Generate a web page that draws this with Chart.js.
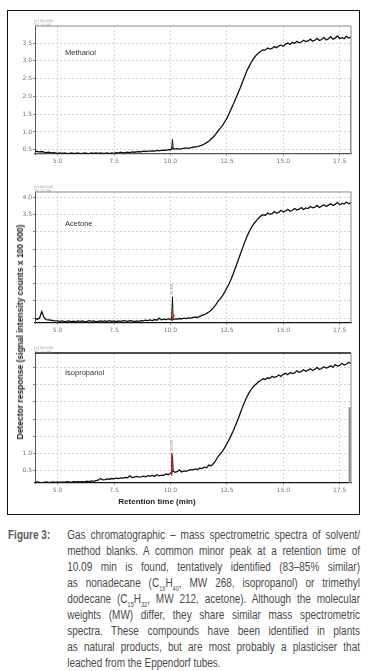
<!DOCTYPE html>
<html lang="en">
<head>
<meta charset="UTF-8">
<title>Figure 3 - GC-MS solvent blanks</title>
<script src="https://cdn.jsdelivr.net/npm/chart.js"></script>
<style>
  body {
    margin: 0;
    background: #fff;
    width: 374px;
    height: 671px;
    position: relative;
    overflow: hidden;
    font-family: "Liberation Sans", Arial, sans-serif;
  }
  .frame {
    position: absolute;
    left: 7px;
    top: 10px;
    width: 351px;
    height: 503px;
    border: 1.5px solid #111;
  }
  canvas { position: absolute; left: 8px; }
  .name {
    position: absolute;
    left: 65px;
    font-size: 7.5px;
    color: #333;
  }
  .ylab {
    position: absolute;
    left: 20px;
    top: 332px;
    transform: translate(-50%, -50%) rotate(-90deg);
    white-space: nowrap;
    font-weight: bold;
    font-size: 8.5px;
    color: #222;
  }
  .xlab {
    position: absolute;
    left: 157px;
    top: 501px;
    transform: translate(-50%, -50%);
    white-space: nowrap;
    font-weight: bold;
    font-size: 8px;
    color: #222;
  }
  /* condensed caption: no narrow font installed, so squeeze horizontally */
  .capbox {
    position: absolute;
    left: 8px;
    top: 527px;
    width: 441px;
    height: 150px;
    transform: scaleX(0.8);
    transform-origin: left top;
    font-size: 12.5px;
    line-height: 16px;
  }
  .figno {
    position: absolute;
    left: 0;
    top: 0;
    font-weight: bold;
    color: #5a5a5a;
  }
  .caption {
    position: absolute;
    left: 74px;
    top: 0;
    width: 366px;
    color: #4a4a4a;
  }
  .caption div { text-align: justify; text-align-last: justify; white-space: nowrap; }
  .caption div.last { text-align-last: left; }
  .caption sub { font-size: 7px; line-height: 0; }
</style>
</head>
<body>
<div class="frame"></div>

<canvas id="c1" width="352" height="160" style="top:12px"></canvas>
<canvas id="c2" width="352" height="165" style="top:176px"></canvas>
<canvas id="c3" width="352" height="160" style="top:341px"></canvas>

<div class="name" style="top:48px">Methanol</div>
<div class="name" style="top:219px">Acetone</div>
<div class="name" style="top:368px">Isopropanol</div>

<div class="ylab">Detector response (signal intensity counts x 100 000)</div>
<div class="xlab">Retention time (min)</div>

<div class="capbox">
  <div class="figno">Figure 3:</div>
  <div class="caption">
    <div>Gas chromatographic – mass spectrometric spectra of solvent/</div>
    <div>method blanks. A common minor peak at a retention time of</div>
    <div>10.09 min is found, tentatively identified (83–85% similar)</div>
    <div>as nonadecane (C<sub>19</sub>H<sub>40</sub>, MW 268, isopropanol) or trimethyl</div>
    <div>dodecane (C<sub>15</sub>H<sub>32</sub>, MW 212, acetone). Although the molecular</div>
    <div>weights (MW) differ, they share similar mass spectrometric</div>
    <div>spectra. These compounds have been identified in plants</div>
    <div>as natural products, but are most probably a plasticiser that</div>
    <div class="last">leached from the Eppendorf tubes.</div>
  </div>
</div>

<script>
  // retention time (min), one reading every 0.1 min
  const times = [
    4.0, 4.1, 4.2, 4.3, 4.4, 4.5, 4.6, 4.7, 4.8, 4.9,
    5.0, 5.1, 5.2, 5.3, 5.4, 5.5, 5.6, 5.7, 5.8, 5.9,
    6.0, 6.1, 6.2, 6.3, 6.4, 6.5, 6.6, 6.7, 6.8, 6.9,
    7.0, 7.1, 7.2, 7.3, 7.4, 7.5, 7.6, 7.7, 7.8, 7.9,
    8.0, 8.1, 8.2, 8.3, 8.4, 8.5, 8.6, 8.7, 8.8, 8.9,
    9.0, 9.1, 9.2, 9.3, 9.4, 9.5, 9.6, 9.7, 9.8, 9.9,
    10.0, 10.1, 10.2, 10.3, 10.4, 10.5, 10.6, 10.7, 10.8, 10.9,
    11.0, 11.1, 11.2, 11.3, 11.4, 11.5, 11.6, 11.7, 11.8, 11.9,
    12.0, 12.1, 12.2, 12.3, 12.4, 12.5, 12.6, 12.7, 12.8, 12.9,
    13.0, 13.1, 13.2, 13.3, 13.4, 13.5, 13.6, 13.7, 13.8, 13.9,
    14.0, 14.1, 14.2, 14.3, 14.4, 14.5, 14.6, 14.7, 14.8, 14.9,
    15.0, 15.1, 15.2, 15.3, 15.4, 15.5, 15.6, 15.7, 15.8, 15.9,
    16.0, 16.1, 16.2, 16.3, 16.4, 16.5, 16.6, 16.7, 16.8, 16.9,
    17.0, 17.1, 17.2, 17.3, 17.4, 17.5, 17.6, 17.7, 17.8, 17.9,
    18.0
  ];

  // detector response (x 100 000 counts)
  const methanol = [
    0.46, 0.45, 0.44, 0.45, 0.43, 0.42, 0.43, 0.41, 0.42, 0.41,
    0.40, 0.41, 0.40, 0.41, 0.40, 0.39, 0.41, 0.40, 0.40, 0.41,
    0.39, 0.40, 0.41, 0.40, 0.39, 0.41, 0.40, 0.41, 0.40, 0.41,
    0.40, 0.40, 0.41, 0.39, 0.41, 0.40, 0.42, 0.41, 0.43, 0.41,
    0.42, 0.43, 0.42, 0.44, 0.43, 0.44, 0.45, 0.44, 0.46, 0.45,
    0.46, 0.46, 0.47, 0.46, 0.48, 0.47, 0.48, 0.49, 0.48, 0.50,
    0.50, 0.54, 0.52, 0.53, 0.52, 0.53, 0.54, 0.55, 0.54, 0.56,
    0.57, 0.58, 0.59, 0.61, 0.63, 0.66, 0.70, 0.74, 0.80, 0.86,
    0.93, 1.02, 1.10, 1.18, 1.28, 1.38, 1.52, 1.66, 1.80, 1.95,
    2.10, 2.25, 2.42, 2.58, 2.74, 2.86, 2.98, 3.08, 3.16, 3.22,
    3.27, 3.31, 3.30, 3.36, 3.33, 3.35, 3.40, 3.37, 3.42, 3.44,
    3.41, 3.47, 3.50, 3.46, 3.52, 3.49, 3.55, 3.51, 3.53, 3.58,
    3.54, 3.56, 3.61, 3.55, 3.58, 3.63, 3.57, 3.60, 3.66, 3.59,
    3.62, 3.68, 3.61, 3.64, 3.70, 3.63, 3.65, 3.62, 3.69, 3.64,
    3.67
  ];
  const acetone = [
    0.49, 0.47, 0.50, 0.69, 0.52, 0.46, 0.45, 0.44, 0.43, 0.42,
    0.42, 0.41, 0.42, 0.40, 0.41, 0.42, 0.40, 0.41, 0.40, 0.42,
    0.41, 0.42, 0.40, 0.41, 0.43, 0.41, 0.42, 0.40, 0.41, 0.42,
    0.41, 0.42, 0.41, 0.43, 0.41, 0.42, 0.40, 0.42, 0.41, 0.43,
    0.42, 0.41, 0.43, 0.42, 0.40, 0.42, 0.41, 0.43, 0.42, 0.44,
    0.43, 0.45, 0.43, 0.46, 0.44, 0.50, 0.45, 0.47, 0.46, 0.48,
    0.47, 0.46, 0.48, 0.47, 0.49, 0.48, 0.50, 0.49, 0.51, 0.50,
    0.52, 0.53, 0.52, 0.55, 0.58, 0.60, 0.64, 0.68, 0.73, 0.80,
    0.88, 0.98, 1.06, 1.15, 1.25, 1.38, 1.50, 1.65, 1.82, 2.00,
    2.18, 2.36, 2.54, 2.72, 2.88, 3.02, 3.14, 3.24, 3.32, 3.40,
    3.46, 3.50, 3.48, 3.55, 3.51, 3.53, 3.59, 3.55, 3.57, 3.63,
    3.58, 3.61, 3.66, 3.60, 3.63, 3.68, 3.64, 3.66, 3.71, 3.65,
    3.70, 3.68, 3.74, 3.70, 3.72, 3.77, 3.71, 3.75, 3.79, 3.74,
    3.78, 3.82, 3.77, 3.80, 3.86, 3.79, 3.83, 3.81, 3.87, 3.82,
    3.85
  ];
  const isopropanol = [
    0.16, 0.17, 0.16, 0.15, 0.16, 0.17, 0.16, 0.16, 0.17, 0.16,
    0.17, 0.16, 0.17, 0.16, 0.18, 0.17, 0.16, 0.18, 0.17, 0.18,
    0.17, 0.18, 0.17, 0.19, 0.18, 0.20, 0.19, 0.21, 0.22, 0.27,
    0.23, 0.24, 0.26, 0.25, 0.27, 0.26, 0.28, 0.27, 0.29, 0.28,
    0.30, 0.29, 0.35, 0.30, 0.31, 0.33, 0.31, 0.32, 0.34, 0.32,
    0.35, 0.34, 0.36, 0.33, 0.38, 0.35, 0.37, 0.36, 0.40, 0.38,
    0.42, 0.50, 0.45, 0.47, 0.52, 0.46, 0.49, 0.48, 0.51, 0.53,
    0.52, 0.55, 0.53, 0.57, 0.56, 0.60, 0.58, 0.66, 0.64, 0.70,
    0.78, 0.90, 0.98, 1.06, 1.16, 1.28, 1.40, 1.54, 1.68, 1.84,
    2.00, 2.18, 2.36, 2.52, 2.66, 2.78, 2.88, 2.96, 3.02, 3.08,
    3.12, 3.17, 3.15, 3.20, 3.18, 3.24, 3.21, 3.23, 3.28, 3.24,
    3.30, 3.33, 3.29, 3.35, 3.32, 3.34, 3.40, 3.36, 3.38, 3.43,
    3.39, 3.42, 3.46, 3.41, 3.45, 3.50, 3.44, 3.47, 3.52, 3.48,
    3.51, 3.55, 3.50, 3.58, 3.54, 3.56, 3.62, 3.57, 3.60, 3.65,
    3.61
  ];

  // the minor peak near 10.09 min
  const spikeTimes = [10.05, 10.09, 10.12];
  const methanolSpike = [0.50, 0.79, 0.55];
  const acetoneSpike = [0.46, 1.12, 0.50];
  const isopropanolSpike = [0.40, 0.95, 0.50];

  // integration marks (red) at the peak
  const acetoneMarkTimes = [10.06, 10.17];
  const acetoneMark = [0.42, 0.60];
  const isopropanolMarkTimes = [10.06, 10.06];
  const isopropanolMark = [0.36, 1.02];

  // grey bar at the right edge of the trace window
  const methanolEdgeTimes = [17.98, 17.98];
  const methanolEdge = [0.38, 2.47];
  const isopropanolEdgeTimes = [17.94, 17.94];
  const isopropanolEdge = [0.14, 2.34];

  const xTicks = [5.0, 7.5, 10.0, 12.5, 15.0, 17.5];
  const yTicks1 = [0.5, 1.0, 1.5, 2.0, 2.5, 3.0, 3.5];
  const yTicks2 = [0.5, 1.0, 1.5, 2.0, 2.5, 3.0, 3.5, 4.0];
  const yTicks3 = [0.5, 1.0, 1.5, 2.0, 2.5, 3.0, 3.5];
  const yLabels1 = [0.5, 1.0, 1.5, 2.0, 2.5, 3.0, 3.5];
  const yLabels2 = [3.5, 4.0];
  const yLabels3 = [0.5, 1.0];

  function pts(xs, ys) {
    return xs.map((x, i) => ({ x: x, y: ys[i] }));
  }

  // frame of the plot area, tiny header text and peak label
  const framePlugin = {
    id: 'frame',
    afterDraw(chart, args, opts) {
      const { ctx, chartArea: a, scales } = chart;
      ctx.save();
      ctx.strokeStyle = opts.topColor;
      ctx.lineWidth = opts.topWidth;
      ctx.beginPath();
      ctx.moveTo(a.left, a.top);
      ctx.lineTo(a.right, a.top);
      ctx.stroke();
      ctx.strokeStyle = '#888';
      ctx.lineWidth = 1;
      ctx.beginPath();
      ctx.moveTo(a.right, a.top);
      ctx.lineTo(a.right, a.bottom);
      ctx.stroke();

      ctx.fillStyle = '#999';
      ctx.font = '3.5px "DejaVu Sans"';
      ctx.textAlign = 'left';
      ctx.fillText('(x100,000)', a.left - 1, a.top - 4);
      ctx.fillText('TIC (1.00)', a.left - 1, a.top - 0.5);

      if (opts.peakLabel) {
        const px = scales.x.getPixelForValue(opts.peakLabel.x);
        const py = scales.y.getPixelForValue(opts.peakLabel.y);
        ctx.translate(px + 1, py);
        ctx.rotate(-Math.PI / 2);
        ctx.font = '4px "DejaVu Sans"';
        ctx.fillStyle = '#888';
        ctx.fillText(opts.peakLabel.text, 0, 0);
      }
      ctx.restore();
    }
  };

  function line(data, color, width) {
    return {
      data: data,
      borderColor: color,
      borderWidth: width,
      pointRadius: 0,
      tension: 0,
      fill: false
    };
  }

  function makeChart(id, cfg) {
    const datasets = [];
    if (cfg.mark) datasets.push(line(cfg.mark, '#d41a1a', 1.4));
    datasets.push(line(cfg.spike, '#111', 1));
    datasets.push(line(cfg.trace, '#111', 1.3));
    if (cfg.edge) datasets.push(line(cfg.edge, '#8a8a8a', cfg.edgeWidth));

    return new Chart(document.getElementById(id), {
      type: 'line',
      data: { datasets: datasets },
      plugins: [framePlugin],
      options: {
        responsive: false,
        animation: false,
        devicePixelRatio: 1,
        layout: { padding: { left: 0, right: 9, top: cfg.padTop, bottom: 0 } },
        plugins: {
          legend: { display: false },
          tooltip: { enabled: false },
          frame: { topColor: cfg.topColor, topWidth: cfg.topWidth, peakLabel: cfg.peakLabel }
        },
        scales: {
          x: {
            type: 'linear',
            min: 4.0,
            max: 18.0,
            afterFit: s => { s.height = 18; },
            afterBuildTicks: s => { s.ticks = xTicks.map(v => ({ value: v })); },
            ticks: {
              font: { size: 6, family: 'DejaVu Sans' },
              color: '#777',
              padding: 2,
              maxRotation: 0,
              autoSkip: false,
              callback: v => v.toFixed(1)
            },
            grid: { color: '#c4c4c4', lineWidth: 0.7, tickLength: 2, tickColor: '#777' },
            border: { display: true, color: cfg.axisColor, width: 1.2, dash: [2, 2] }
          },
          y: {
            type: 'linear',
            min: cfg.yMin,
            max: cfg.yMax,
            afterFit: s => { s.width = 27; },
            afterBuildTicks: s => { s.ticks = cfg.yTicks.map(v => ({ value: v })); },
            ticks: {
              font: { size: 6, family: 'DejaVu Sans' },
              color: '#777',
              padding: 1,
              autoSkip: false,
              callback: v => cfg.yLabels.includes(v) ? v.toFixed(1) : ''
            },
            grid: { color: '#c4c4c4', lineWidth: 0.7, tickLength: 2, tickColor: '#555' },
            border: { display: true, color: '#555', width: 1, dash: [2, 2] }
          }
        }
      }
    });
  }

  makeChart('c1', {
    trace: pts(times, methanol),
    spike: pts(spikeTimes, methanolSpike),
    edge: pts(methanolEdgeTimes, methanolEdge),
    edgeWidth: 1,
    yMin: 0.38, yMax: 3.98,
    yTicks: yTicks1, yLabels: yLabels1,
    padTop: 14,
    topColor: '#888', topWidth: 1,
    axisColor: '#555'
  });

  makeChart('c2', {
    trace: pts(times, acetone),
    spike: pts(spikeTimes, acetoneSpike),
    mark: pts(acetoneMarkTimes, acetoneMark),
    yMin: 0.36, yMax: 4.16,
    yTicks: yTicks2, yLabels: yLabels2,
    padTop: 16,
    topColor: '#888', topWidth: 1,
    axisColor: '#111',
    peakLabel: { x: 10.09, y: 1.16, text: '10.09' }
  });

  makeChart('c3', {
    trace: pts(times, isopropanol),
    spike: pts(spikeTimes, isopropanolSpike),
    mark: pts(isopropanolMarkTimes, isopropanolMark),
    edge: pts(isopropanolEdgeTimes, isopropanolEdge),
    edgeWidth: 2,
    yMin: 0.14, yMax: 3.92,
    yTicks: yTicks3, yLabels: yLabels3,
    padTop: 12,
    topColor: '#111', topWidth: 1.6,
    axisColor: '#111',
    peakLabel: { x: 10.09, y: 1.06, text: '10.09' }
  });
</script>
</body>
</html>
